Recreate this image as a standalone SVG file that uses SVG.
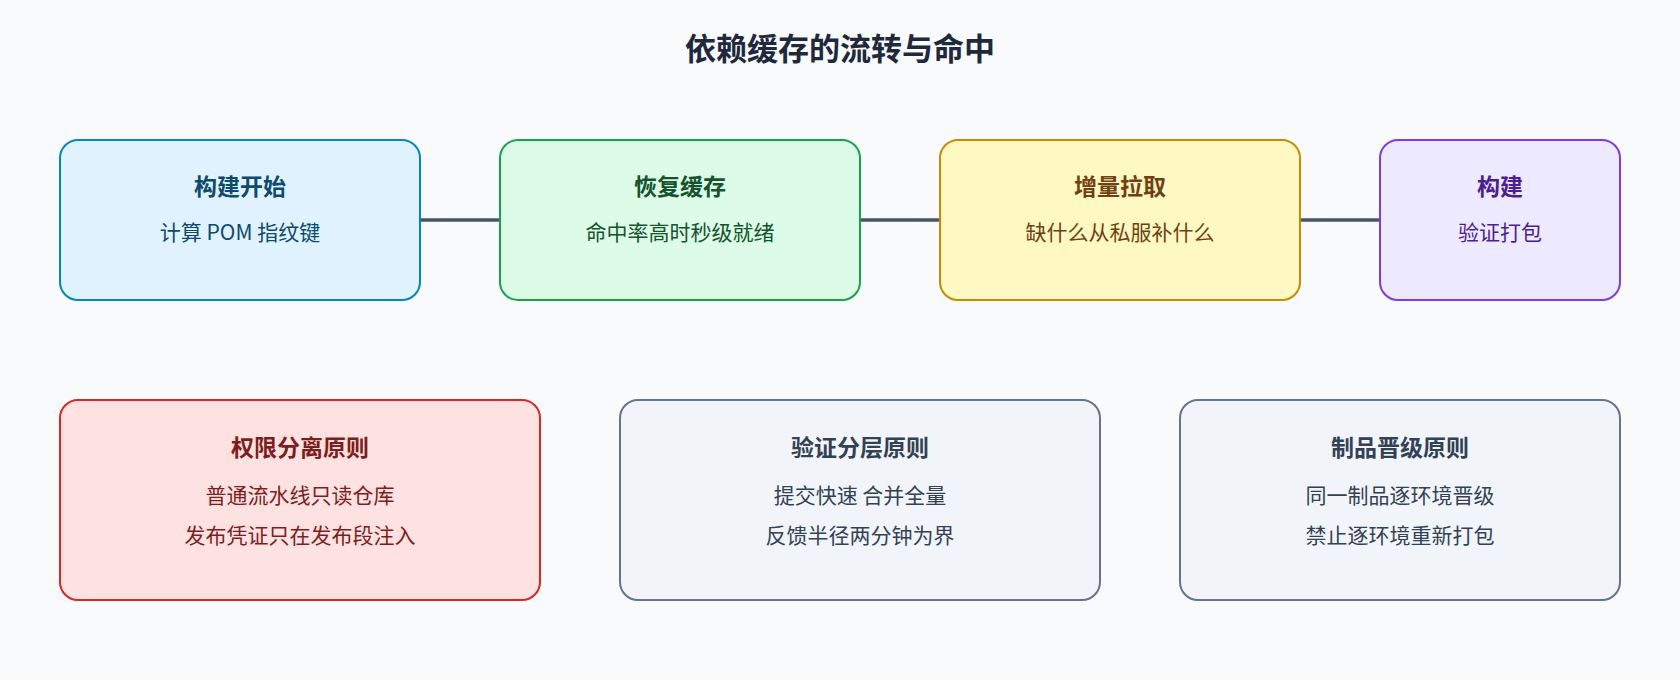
<svg xmlns="http://www.w3.org/2000/svg" width="1680" height="680" viewBox="0 0 1680 680">
<style>
text{font-family:"Noto Sans CJK SC","Noto Sans",sans-serif;text-anchor:middle}
.t{font-size:23px;font-weight:bold}
.s{font-size:21px}
.box{stroke-width:2}
.c{stroke:#475569;stroke-width:3.5;fill:none}
</style>
<rect width="1680" height="680" fill="#f8fafc"/>
<text x="840" y="60" style="font-size:31px;font-weight:bold" fill="#1e293b">依赖缓存的流转与命中</text>
<g id="connectors">
<line class="c" x1="420" y1="220" x2="500" y2="220"/>
<line class="c" x1="860" y1="220" x2="940" y2="220"/>
<line class="c" x1="1300" y1="220" x2="1380" y2="220"/>
</g>
<g id="n1"><rect class="box" x="60" y="140" width="360" height="160" rx="18" fill="#e0f2fe" stroke="#0284c7"/>
<text class="t" x="240" y="195" fill="#0c4a6e">构建开始</text><text class="s" x="240" y="240" fill="#0c4a6e">计算 POM 指纹键</text></g>
<g id="n2"><rect class="box" x="500" y="140" width="360" height="160" rx="18" fill="#dcfce7" stroke="#16a34a"/>
<text class="t" x="680" y="195" fill="#14532d">恢复缓存</text><text class="s" x="680" y="240" fill="#14532d">命中率高时秒级就绪</text></g>
<g id="n3"><rect class="box" x="940" y="140" width="360" height="160" rx="18" fill="#fef9c3" stroke="#ca8a04"/>
<text class="t" x="1120" y="195" fill="#713f12">增量拉取</text><text class="s" x="1120" y="240" fill="#713f12">缺什么从私服补什么</text></g>
<g id="n4"><rect class="box" x="1380" y="140" width="240" height="160" rx="18" fill="#ede9fe" stroke="#7c3aed"/>
<text class="t" x="1500" y="195" fill="#4c1d95">构建</text><text class="s" x="1500" y="240" fill="#4c1d95">验证打包</text></g>
<g id="n5"><rect class="box" x="60" y="400" width="480" height="200" rx="18" fill="#fee2e2" stroke="#dc2626"/>
<text class="t" x="300" y="456" fill="#7f1d1d">权限分离原则</text><text class="s" x="300" y="503" fill="#7f1d1d">普通流水线只读仓库</text><text class="s" x="300" y="543" fill="#7f1d1d">发布凭证只在发布段注入</text></g>
<g id="n6"><rect class="box" x="620" y="400" width="480" height="200" rx="18" fill="#f1f5f9" stroke="#64748b"/>
<text class="t" x="860" y="456" fill="#334155">验证分层原则</text><text class="s" x="860" y="503" fill="#334155">提交快速 合并全量</text><text class="s" x="860" y="543" fill="#334155">反馈半径两分钟为界</text></g>
<g id="n7"><rect class="box" x="1180" y="400" width="440" height="200" rx="18" fill="#f1f5f9" stroke="#64748b"/>
<text class="t" x="1400" y="456" fill="#334155">制品晋级原则</text><text class="s" x="1400" y="503" fill="#334155">同一制品逐环境晋级</text><text class="s" x="1400" y="543" fill="#334155">禁止逐环境重新打包</text></g>
</svg>
